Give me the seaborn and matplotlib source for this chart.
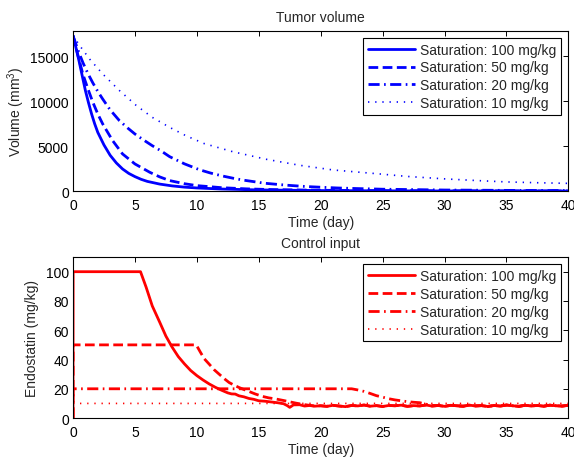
import numpy as np
import seaborn as sns
import matplotlib.pyplot as plt

# ---- data ----
labels = ['Saturation: 100 mg/kg', 'Saturation: 50 mg/kg',
          'Saturation: 20 mg/kg', 'Saturation: 10 mg/kg']

# tumor volume (mm^3)
vol_t_100 = [0, 0.25, 0.5, 0.75, 1, 1.25, 1.5, 1.75, 2, 2.5, 3, 3.5, 4, 4.5, 5,
             5.5, 6, 7, 8, 9, 10, 12, 15, 20, 25, 30, 40]
vol_100 = [17300, 15900, 14400, 12800, 11200, 9850, 8600, 7500, 6550, 5150, 4000,
           3150, 2480, 1990, 1630, 1330, 1100, 800, 600, 460, 370, 250, 150, 80,
           50, 35, 25]
vol_t_50 = [0, 0.4, 0.8, 1.2, 1.6, 2, 2.4, 3.2, 4, 5, 6.2, 7, 7.8, 9, 10, 12,
            14, 16, 20, 25, 30, 40]
vol_50 = [17300, 15100, 13000, 11400, 9900, 8600, 7480, 5630, 4150, 3040, 2110,
          1600, 1190, 840, 630, 400, 270, 190, 110, 70, 50, 35]
vol_t_20 = [0, 0.4, 0.8, 1.2, 1.6, 2, 2.4, 3, 3.75, 4.4, 5, 5.7, 6.4, 7.1, 7.8,
            9, 10.2, 11.1, 12.1, 13, 13.8, 15.5, 17.3, 18.9, 21.3, 23, 25, 30, 35, 40]
vol_20 = [17300, 15700, 14300, 13100, 12050, 11100, 10250, 9050, 7850, 7050, 6370,
          5700, 5070, 4500, 3850, 3050, 2400, 2030, 1690, 1430, 1230, 890, 670,
          520, 370, 300, 230, 140, 100, 80]
vol_t_10 = [0, 0.54, 1.34, 2.4, 3.75, 5.1, 6.4, 7.8, 9.1, 10.6, 12.9, 15.6, 18.3,
            21, 24.4, 27, 30, 32.5, 35, 37.5, 40]
vol_10 = [17300, 16200, 14700, 13040, 11200, 9550, 8220, 7110, 6190, 5300, 4400,
          3560, 2890, 2370, 1970, 1650, 1380, 1200, 1040, 950, 880]

# control input (mg/kg)
tail_t = np.arange(20, 40.5, 0.5)
tail_u = [8.4, 8.0, 8.7, 8.2, 7.8, 8.6, 8.3, 8.9, 8.1, 8.5, 7.9, 8.6, 8.4, 8.8,
          8.0, 8.5, 8.3, 8.9, 8.2, 8.6, 8.0, 8.7, 8.4, 8.1, 8.8, 8.3, 8.5, 7.9,
          8.6, 8.2, 8.9, 8.4, 8.0, 8.7, 8.3, 8.6, 8.1, 8.8, 8.4, 8.2, 8.7]

u_t_100 = [0, 0.01, 5.45, 5.9, 6.4, 7, 7.5, 8, 8.5, 9, 9.5, 10, 10.5, 11, 11.5,
           12, 12.5, 12.8, 13.1, 13.4, 13.8, 14.2, 14.6, 15, 15.5, 16, 16.5, 17,
           17.3, 17.5, 17.8, 18.3, 18.7, 19.1, 19.5]
u_100 = [0, 100, 100, 89.5, 76.6, 65.5, 56, 48.5, 42, 37, 32.5, 29, 26, 23.3, 21,
         19, 17.2, 16.5, 16.4, 15.2, 14.5, 13.4, 12.8, 11.8, 11.5, 11, 10.5, 9.8,
         8.5, 7.3, 9, 9.1, 8.2, 8.6, 8.1]
u_t_50 = [0, 0.01, 9.95, 10.3, 10.6, 11, 11.4, 11.8, 12.2, 12.6, 13, 13.4, 13.8,
          14.2, 14.7, 15.3, 15.8, 16.4, 17, 17.5, 18, 18.6, 19.1, 19.5]
u_50 = [0, 50, 50, 44.8, 40.5, 36.8, 33, 30, 27, 24.3, 22.5, 20.9, 19.5, 18.2,
        16.5, 14.8, 13.8, 13, 12, 11.1, 10.2, 9.3, 8.7, 8.3]
u_t_20 = [0, 0.01, 22.5, 23, 23.5, 24, 24.5, 25, 25.5, 26, 26.5, 27, 27.5, 28,
          28.5, 29]
u_20 = [0, 20, 20, 19.2, 18.2, 16.8, 15.3, 14.3, 13.2, 12.4, 11.8, 11.2, 10.8,
        10.5, 9.5, 8.6]
u_t_10 = [0, 0.01, 40]
u_10 = [0, 10, 10]

# ---- figure ----
sns.set_style('white')
plt.rcParams['font.family'] = ['Liberation Sans', 'DejaVu Sans']
plt.rcParams['mathtext.fontset'] = 'custom'
plt.rcParams['mathtext.rm'] = 'Liberation Sans'

fig = plt.figure(figsize=(5.74, 4.6), dpi=100)
ax1 = fig.add_axes([0.1272, 0.582, 0.863, 0.349])
ax2 = fig.add_axes([0.1272, 0.089, 0.863, 0.35])

styles = [('-', None, 2), ('--', (3.5, 1.6), 2),
          ('-.', (4.0, 1.6, 0.6, 1.6), 2), (':', (0.8, 3.5), 1.2)]


def draw(ax, series, color):
    for (t, v), lab, (ls, dash, lw) in zip(series, labels, styles):
        sns.lineplot(x=t, y=v, ax=ax, color=color, lw=lw, linestyle=ls,
                     estimator=None, sort=False, label=lab)
        if dash is not None:
            ax.lines[-1].set_dashes(dash)


draw(ax1, [(vol_t_100, vol_100), (vol_t_50, vol_50),
           (vol_t_20, vol_20), (vol_t_10, vol_10)], 'blue')

u_series = [
    (list(u_t_100) + list(tail_t), list(u_100) + list(tail_u)),
    (list(u_t_50) + list(tail_t), list(u_50) + list(tail_u)),
    (list(u_t_20) + list(tail_t[19:]), list(u_20) + list(tail_u[19:])),
    (u_t_10, u_10),
]
draw(ax2, u_series, 'red')

fs = 10
for ax in (ax1, ax2):
    ax.set_xlim(0, 40)
    ax.set_xticks(range(0, 41, 5))
    ax.tick_params(direction='in', top=True, right=True, length=3.5,
                   width=0.7, labelsize=fs, colors='black')
    ax.tick_params(axis='x', pad=5)
    ax.tick_params(axis='y', pad=3)
    for s in ax.spines.values():
        s.set_color('black')
        s.set_linewidth(0.8)
    ax.set_xlabel('Time (day)', fontsize=fs, labelpad=2)
    leg = ax.legend(loc='upper right', fontsize=fs, frameon=True, fancybox=False,
                    edgecolor='black', framealpha=1, handlelength=3.4,
                    labelspacing=0.28, borderpad=0.35, handletextpad=0.4,
                    borderaxespad=0.5)
    leg.get_frame().set_linewidth(0.8)

ax1.set_ylim(0, 17850)
ax1.set_yticks([0, 5000, 10000, 15000])
ax1.set_ylabel('Volume (mm$^3$)', fontsize=fs, labelpad=2)
ax1.set_title('Tumor volume', fontsize=fs, pad=7)

ax2.set_ylim(0, 110)
ax2.set_yticks(range(0, 101, 20))
ax2.set_ylabel('Endostatin (mg/kg)', fontsize=fs, labelpad=5)
ax2.set_title('Control input', fontsize=fs, pad=7)

plt.savefig('out.png', dpi=100)
